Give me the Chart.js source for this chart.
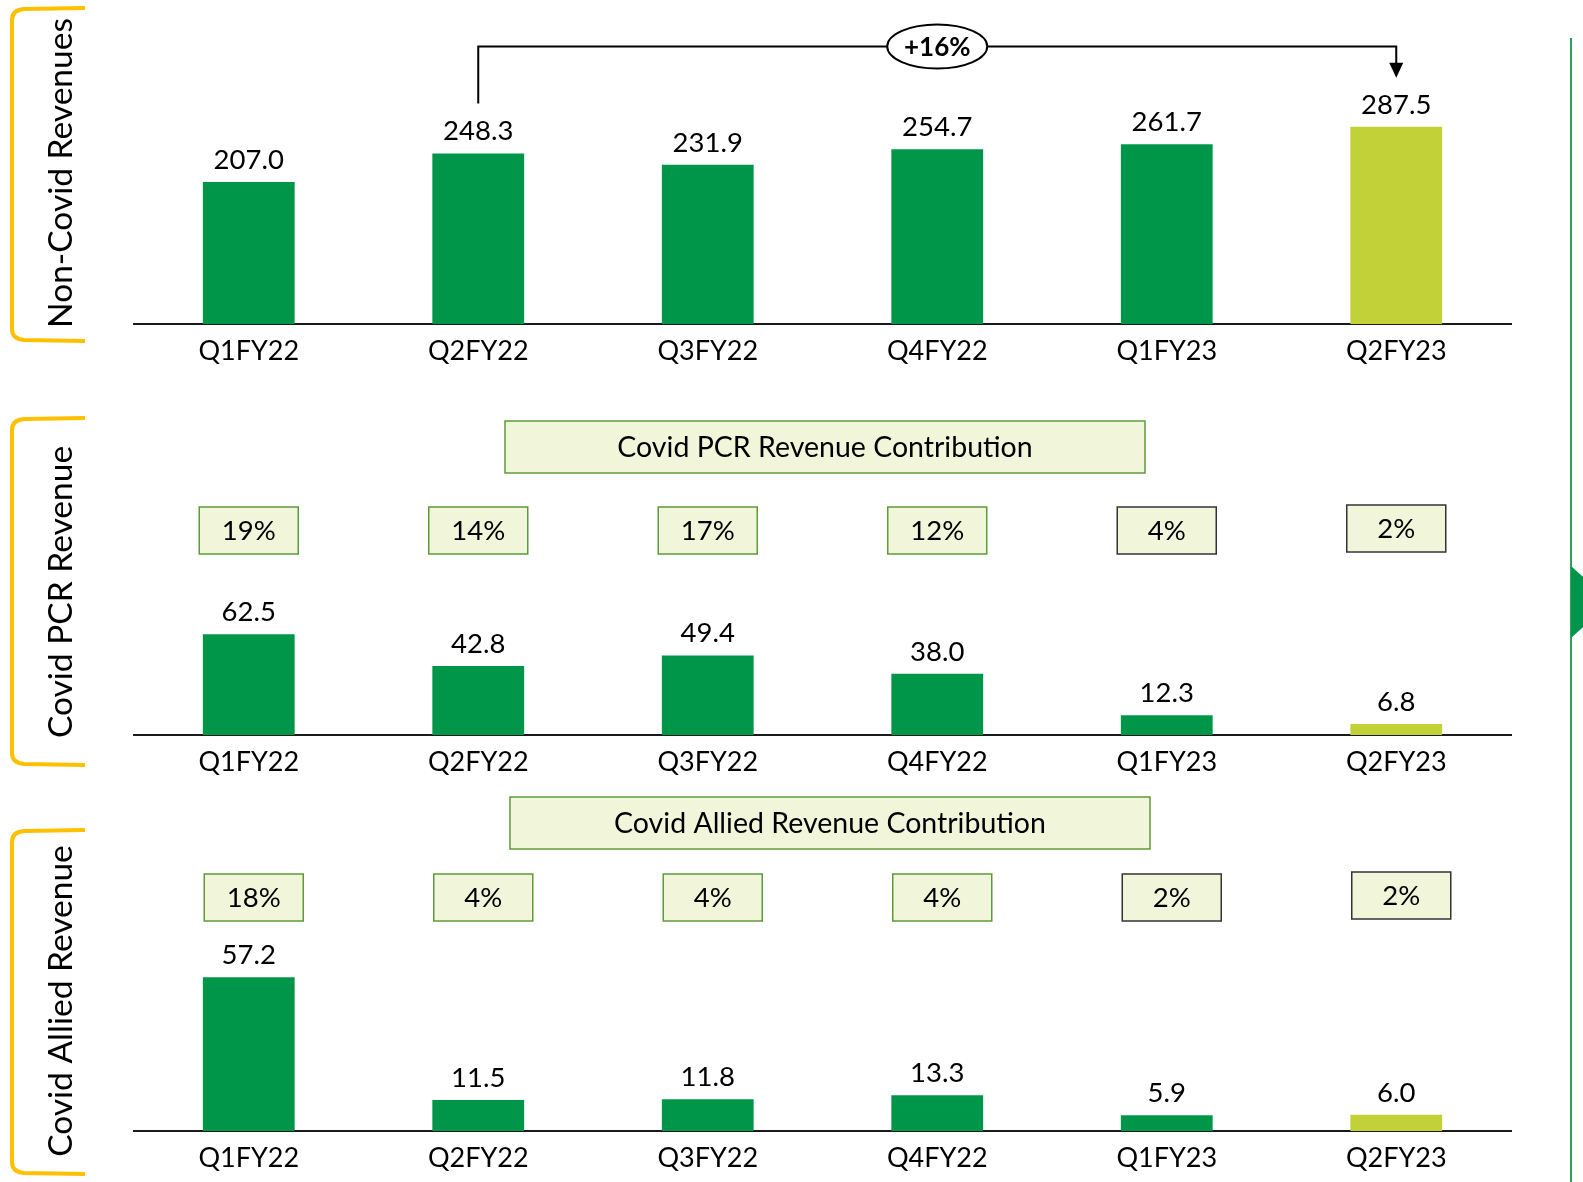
<!DOCTYPE html>
<html>
<head>
<meta charset="utf-8">
<script src="https://cdn.jsdelivr.net/npm/chart.js@4.4.0/dist/chart.umd.min.js"></script>
<style>
  html, body { margin: 0; padding: 0; background: #fff; }
  body { width: 1583px; height: 1182px; position: relative; overflow: hidden; }
  .panel { position: absolute; left: 0; width: 1583px; }
  .panel canvas { display: block; }
  #sideLine { position: absolute; left: 1570px; top: 38px; width: 2px; height: 1144px; background: #2f9f5c; }
  #sideArrow { position: absolute; left: 1571px; top: 566px; width: 40px; height: 72px; background: #00964a;
               clip-path: polygon(0 0, 100% 50%, 0 100%); }
</style>
</head>
<body>
<div class="panel" style="top:0"><canvas id="nonCovidChart" width="1583" height="370"></canvas></div>
<div class="panel" style="top:370px"><canvas id="pcrChart" width="1583" height="410"></canvas></div>
<div class="panel" style="top:780px"><canvas id="alliedChart" width="1583" height="402"></canvas></div>
<div id="sideLine"></div>
<div id="sideArrow"></div>

<script>
const quarters = ["Q1FY22", "Q2FY22", "Q3FY22", "Q4FY22", "Q1FY23", "Q2FY23"];
const nonCovidRevenue = [207.0, 248.3, 231.9, 254.7, 261.7, 287.5];
const covidPcrRevenue = [62.5, 42.8, 49.4, 38.0, 12.3, 6.8];
const covidAlliedRevenue = [57.2, 11.5, 11.8, 13.3, 5.9, 6.0];
const covidPcrShare = [19, 14, 17, 12, 4, 2];
const covidAlliedShare = [18, 4, 4, 4, 2, 2];
const growthLabel = "+16%";

const FONT = "Lato, 'Open Sans', sans-serif";
const GREEN = "#00964a";
const LIME = "#c3d138";
const BOX_FILL = "#f1f5da";

function drawBracket(ctx, top, bottom) {
    ctx.strokeStyle = "#ffc000";
    ctx.lineWidth = 4;
    ctx.beginPath();
    ctx.moveTo(85, top);
    ctx.lineTo(24, top + 1);
    ctx.quadraticCurveTo(12, top + 2, 12, top + 12);
    ctx.lineTo(12, bottom - 12);
    ctx.quadraticCurveTo(12, bottom - 2, 24, bottom - 1);
    ctx.lineTo(85, bottom);
    ctx.stroke();
}

function sideFontSize(ctx) {
    ctx.font = `32px ${FONT}`;
    return 32 * 310 / ctx.measureText("Non-Covid Revenues").width;
}

function drawBox(ctx, x, y, w, h, border, text) {
    ctx.fillStyle = BOX_FILL;
    ctx.fillRect(x, y, w, h);
    ctx.strokeStyle = border;
    ctx.lineWidth = 1.5;
    ctx.strokeRect(x, y, w, h);
    ctx.fillStyle = "#000";
    ctx.textAlign = "center";
    ctx.textBaseline = "middle";
    ctx.fillText(text, x + w / 2, y + h / 2 + 1);
}

const overlay = {
    id: "overlay",
    afterDraw(chart, args, o) {
        const { ctx, scales: { x } } = chart;
        const meta = chart.getDatasetMeta(0);
        ctx.save();

        // value labels above bars
        ctx.font = `27.5px ${FONT}`;
        ctx.fillStyle = "#000";
        ctx.textAlign = "center";
        ctx.textBaseline = "middle";
        meta.data.forEach((bar, i) => {
            ctx.fillText(o.values[i].toFixed(1), bar.x, bar.y - 22);
        });

        // growth arrow (first panel only)
        if (o.growth) {
            const b1 = meta.data[1], b2 = meta.data[5];
            const lineY = 46.5, startY = b1.y - 50, tipY = b2.y - 49;
            ctx.strokeStyle = "#000";
            ctx.lineWidth = 2;
            ctx.beginPath();
            ctx.moveTo(b1.x, startY);
            ctx.lineTo(b1.x, lineY);
            ctx.lineTo(b2.x, lineY);
            ctx.lineTo(b2.x, tipY - 12);
            ctx.stroke();
            ctx.fillStyle = "#000";
            ctx.beginPath();
            ctx.moveTo(b2.x - 7, tipY - 15);
            ctx.lineTo(b2.x + 7, tipY - 15);
            ctx.lineTo(b2.x, tipY);
            ctx.closePath();
            ctx.fill();

            const cx = x.getPixelForValue(3);
            ctx.beginPath();
            ctx.ellipse(cx, lineY, 50, 22, 0, 0, Math.PI * 2);
            ctx.fillStyle = "#fff";
            ctx.fill();
            ctx.stroke();
            ctx.fillStyle = "#000";
            ctx.font = `bold 26px ${FONT}`;
            ctx.fillText(o.growth, cx, lineY + 1);
        }

        // page-coordinate decorations
        ctx.translate(0, -o.top);
        drawBracket(ctx, o.bracket[0], o.bracket[1]);

        const fs = sideFontSize(ctx);
        ctx.save();
        ctx.translate(61, o.sideCenter);
        ctx.rotate(-Math.PI / 2);
        ctx.font = `${fs}px ${FONT}`;
        ctx.fillStyle = "#000";
        ctx.textAlign = "center";
        ctx.textBaseline = "middle";
        ctx.fillText(o.sideLabel, 0, 0);
        ctx.restore();

        if (o.title) {
            ctx.font = `28.5px ${FONT}`;
            const t = o.title;
            drawBox(ctx, t.x, t.y, 640, 52, "#5e9a3a", t.text);
        }
        if (o.shares) {
            ctx.font = `27.5px ${FONT}`;
            meta.data.forEach((bar, i) => {
                const border = i < 4 ? "#5e9a3a" : "#333";
                const y = i < 5 ? o.shareY : o.shareY - 2;
                drawBox(ctx, bar.x + o.shareDx - 49.5, y, 99, 47, border, o.shares[i] + "%");
            });
        }
        ctx.restore();
    }
};

function makeChart(id, values, yMax, axisHeight, extra) {
    return new Chart(document.getElementById(id), {
        type: "bar",
        data: {
            labels: quarters,
            datasets: [{
                data: values,
                backgroundColor: values.map((v, i) => (i === values.length - 1 ? LIME : GREEN)),
                categoryPercentage: 0.5,
                barPercentage: 0.8,
            }],
        },
        options: {
            responsive: false,
            animation: false,
            layout: { padding: { left: 134, right: 72, top: 0, bottom: 0 } },
            plugins: {
                legend: { display: false },
                tooltip: { enabled: false },
                overlay: Object.assign({ values }, extra),
            },
            scales: {
                x: {
                    grid: { display: false },
                    border: { display: true, color: "#1a1a1a", width: 2 },
                    ticks: { color: "#000", font: { family: FONT, size: 27 } },
                    afterFit(scale) { scale.height = axisHeight; },
                },
                y: { display: false, min: 0, max: yMax },
            },
        },
        plugins: [overlay],
    });
}

function build() {
    makeChart("nonCovidChart", nonCovidRevenue, 472, 46, {
        top: 0, bracket: [8, 341], sideCenter: 173, sideLabel: "Non-Covid Revenues",
        growth: growthLabel,
    });
    makeChart("pcrChart", covidPcrRevenue, 226.7, 45, {
        top: 370, bracket: [418, 765], sideCenter: 592, sideLabel: "Covid PCR Revenue",
        title: { x: 505, y: 421, text: "Covid PCR Revenue Contribution" },
        shares: covidPcrShare, shareY: 507, shareDx: 0,
    });
    makeChart("alliedChart", covidAlliedRevenue, 130.5, 51, {
        top: 780, bracket: [830, 1174], sideCenter: 1001, sideLabel: "Covid Allied Revenue",
        title: { x: 510, y: 797, text: "Covid Allied Revenue Contribution" },
        shares: covidAlliedShare, shareY: 874, shareDx: 5,
    });
}

if (document.fonts && document.fonts.load) {
    Promise.all([document.fonts.load("27px Lato"), document.fonts.load("bold 26px Lato")])
        .then(build, build);
} else {
    build();
}
</script>
</body>
</html>
